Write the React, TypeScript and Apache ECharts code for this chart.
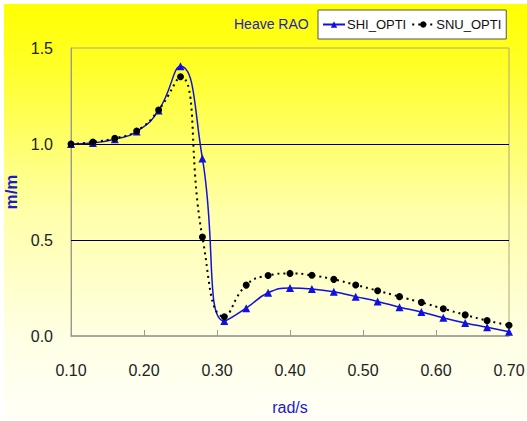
import React, { useEffect, useRef } from "react";
import * as echarts from "echarts";

const freq = [0.10, 0.13, 0.16, 0.19, 0.22, 0.25, 0.28, 0.31, 0.34, 0.37, 0.40, 0.43, 0.46, 0.49, 0.52, 0.55, 0.58, 0.61, 0.64, 0.67, 0.70];
const shiOpti = [1.00, 1.005, 1.025, 1.065, 1.175, 1.405, 0.925, 0.078, 0.145, 0.225, 0.25, 0.245, 0.23, 0.205, 0.18, 0.15, 0.125, 0.095, 0.068, 0.045, 0.022];
const snuOpti = [1.00, 1.01, 1.03, 1.068, 1.177, 1.35, 0.515, 0.10, 0.265, 0.315, 0.326, 0.316, 0.295, 0.266, 0.236, 0.205, 0.175, 0.142, 0.11, 0.08, 0.056];
const gridLevels = [0.5, 1.0];

const FONT = "'Liberation Sans', Arial, sans-serif";

export default function App() {
  const ref = useRef<HTMLDivElement>(null);
  useEffect(() => {
    if (!ref.current) return;
    const chart = echarts.init(ref.current, undefined, { renderer: "svg" });
    chart.setOption({
      animation: false,
      backgroundColor: "#ffffff",
      graphic: [
        {
          type: "rect",
          z: -100,
          silent: true,
          shape: { x: 4, y: 4, width: 523, height: 417 },
          style: {
            fill: new echarts.graphic.LinearGradient(0, 0, 0, 1, [
              { offset: 0, color: "#ffff00" },
              { offset: 0.15, color: "#ffff28" },
              { offset: 0.5, color: "#ffffaa" },
              { offset: 0.8, color: "#ffffe4" },
              { offset: 1, color: "#fffff8" },
            ]),
          },
        },
      ],
      title: {
        text: "Heave RAO",
        left: 234,
        top: 17,
        padding: 0,
        textStyle: { color: "#2424b4", fontSize: 14, fontWeight: "normal", fontFamily: FONT },
      },
      legend: {
        left: 318,
        top: 10,
        orient: "horizontal",
        padding: [8, 5, 8, 4],
        itemGap: 5,
        itemWidth: 22,
        itemHeight: 8,
        backgroundColor: "#ffffff",
        borderColor: "#555555",
        borderWidth: 1,
        textStyle: { color: "#111", fontSize: 13, fontFamily: FONT, padding: [0, 0, 0, -3] },
        data: ["SHI_OPTI", "SNU_OPTI"],
      },
      grid: {
        left: 71,
        right: 18,
        top: 48,
        bottom: 85,
        containLabel: false,
        outerBoundsMode: "none",
        show: true,
        borderColor: "#b0a870",
        borderWidth: 1,
        backgroundColor: "transparent",
      },
      xAxis: {
        type: "value",
        min: 0.1,
        max: 0.7,
        interval: 0.1,
        name: "rad/s",
        nameLocation: "middle",
        nameGap: 63,
        nameTextStyle: { color: "#1a1ad0", fontSize: 16, fontFamily: FONT },
        axisLine: { show: true, lineStyle: { color: "#999999", width: 1.5 } },
        axisTick: { show: true, inside: true, length: 6, lineStyle: { color: "#999999" } },
        axisLabel: {
          color: "#222",
          fontSize: 16,
          fontFamily: FONT,
          margin: 26,
          formatter: (v: number) => v.toFixed(2),
        },
        splitLine: { show: false },
      },
      yAxis: {
        type: "value",
        min: 0,
        max: 1.5,
        interval: 0.5,
        name: "m/m",
        nameLocation: "middle",
        nameGap: 42,
        nameRotate: 90,
        nameTextStyle: { color: "#1a1ad0", fontSize: 17, fontWeight: "bold", fontFamily: FONT },
        axisLine: { show: true, lineStyle: { color: "#999999", width: 1 } },
        axisTick: { show: false },
        axisLabel: {
          color: "#222",
          fontSize: 16,
          fontFamily: FONT,
          margin: 18,
          formatter: (v: number) => v.toFixed(1),
        },
        splitLine: { show: false },
      },
      series: [
        {
          name: "SHI_OPTI",
          type: "line",
          smooth: 0.5,
          data: freq.map((f, i) => [f, shiOpti[i]]),
          symbol: "triangle",
          symbolSize: 8,
          itemStyle: { color: "#1010e0" },
          lineStyle: { color: "#1010e0", width: 1.5 },
          z: 3,
          markLine: {
            silent: true,
            symbol: "none",
            label: { show: false },
            lineStyle: { color: "#000", type: "solid", width: 1 },
            data: gridLevels.map((v) => ({ yAxis: v })),
            z: 1,
          },
        },
        {
          name: "SNU_OPTI",
          type: "line",
          smooth: 0.5,
          data: freq.map((f, i) => [f, snuOpti[i]]),
          symbol: "circle",
          symbolSize: 7,
          itemStyle: { color: "#000" },
          lineStyle: { color: "#000", width: 2, type: [2, 4] },
          z: 4,
        },
      ],
    });
    return () => chart.dispose();
  }, []);
  return (
    <div
      ref={ref}
      style={{ position: "fixed", left: 0, top: 0, width: 527, height: 421 }}
    />
  );
}
